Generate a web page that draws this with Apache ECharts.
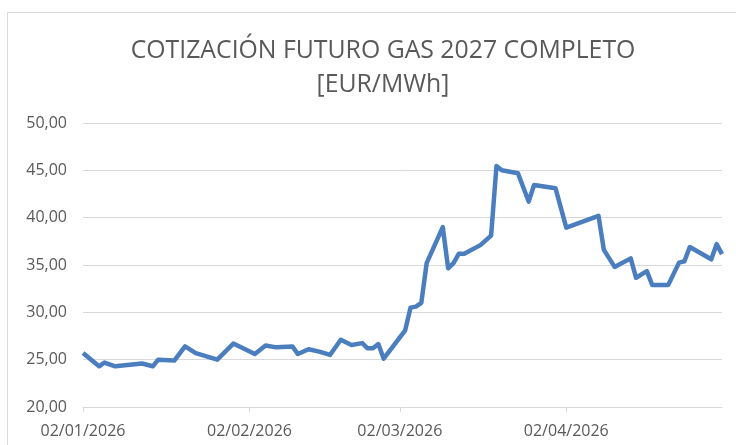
<!DOCTYPE html>
<html>
<head>
<meta charset="utf-8">
<script src="https://cdn.jsdelivr.net/npm/echarts@6/dist/echarts.min.js"></script>
<style>
  html, body { margin: 0; padding: 0; background: #fff; }
  #chart { width: 736px; height: 445px; }
</style>
</head>
<body>
<div id="chart"></div>
<script>
// dates of the visible vertices of the line
const dates = [
  '2026-01-02', '2026-01-05', '2026-01-06', '2026-01-08', '2026-01-13', '2026-01-15',
  '2026-01-16', '2026-01-19', '2026-01-21', '2026-01-23', '2026-01-27', '2026-01-30',
  '2026-02-03', '2026-02-05', '2026-02-07', '2026-02-10', '2026-02-11', '2026-02-13',
  '2026-02-15', '2026-02-17', '2026-02-19', '2026-02-21', '2026-02-23', '2026-02-24',
  '2026-02-25', '2026-02-26', '2026-02-27', '2026-03-03', '2026-03-04', '2026-03-05',
  '2026-03-06', '2026-03-07', '2026-03-10', '2026-03-11', '2026-03-12', '2026-03-13',
  '2026-03-14', '2026-03-17', '2026-03-18', '2026-03-19', '2026-03-20', '2026-03-21',
  '2026-03-24', '2026-03-26', '2026-03-27', '2026-03-31', '2026-04-02', '2026-04-08',
  '2026-04-09', '2026-04-11', '2026-04-14', '2026-04-15', '2026-04-17', '2026-04-18',
  '2026-04-21', '2026-04-23', '2026-04-24', '2026-04-25', '2026-04-29', '2026-04-30',
  '2026-05-01'
];
const prices = [
  25.7, 24.3, 24.7, 24.3, 24.6, 24.3,
  25.0, 24.9, 26.4, 25.7, 25.0, 26.7,
  25.6, 26.5, 26.3, 26.4, 25.6, 26.1,
  25.85, 25.5, 27.1, 26.55, 26.75, 26.2,
  26.2, 26.65, 25.1, 28.1, 30.5, 30.6,
  31.0, 35.2, 39.0, 34.65, 35.2, 36.2,
  36.2, 37.1, 37.6, 38.1, 45.45, 45.0,
  44.7, 41.7, 43.45, 43.1, 38.95, 40.2,
  36.6, 34.8, 35.7, 33.65, 34.35, 32.9,
  32.9, 35.25, 35.4, 36.9, 35.6, 37.2,
  36.15
];
const tickDates = ['2026-01-02', '2026-02-02', '2026-03-02', '2026-04-02'];
const axisStart = '2026-01-02';
const axisEnd = '2026-05-01';

function ts(s) {
  const p = s.split('-');
  return new Date(+p[0], +p[1] - 1, +p[2]).getTime();
}
function pad(n) { return (n < 10 ? '0' : '') + n; }

const chart = echarts.init(document.getElementById('chart'));
chart.setOption({
  animation: false,
  title: {
    text: 'COTIZACIÓN FUTURO GAS 2027 COMPLETO\n[EUR/MWh]',
    left: 378,
    top: 29,
    textAlign: 'center',
    textStyle: {
      fontFamily: 'Open Sans',
      fontSize: 24.8,
      fontWeight: 'normal',
      color: '#595959',
      lineHeight: 34
    }
  },
  graphic: [{
    type: 'polyline',
    shape: { points: [[7.5, 445], [7.5, 12.5], [736, 12.5]] },
    style: { stroke: '#d9d9d9', lineWidth: 1, fill: null },
    silent: true
  }],
  grid: { left: 83, right: 14, top: 123, bottom: 38 },
  xAxis: {
    type: 'value',
    min: ts(axisStart),
    max: ts(axisEnd),
    axisLine: { lineStyle: { color: '#d9d9d9', width: 1 } },
    axisTick: {
      show: true,
      length: 5,
      customValues: tickDates.map(ts),
      lineStyle: { color: '#d9d9d9' }
    },
    axisLabel: {
      customValues: tickDates.map(ts),
      fontFamily: 'Open Sans',
      fontSize: 16,
      color: '#595959',
      margin: 16,
      formatter: function (v) {
        const d = new Date(v);
        return pad(d.getDate()) + '/' + pad(d.getMonth() + 1) + '/' + d.getFullYear();
      }
    },
    splitLine: { show: false }
  },
  yAxis: {
    type: 'value',
    min: 20,
    max: 50,
    interval: 5,
    axisLine: { show: false },
    axisTick: { show: false },
    axisLabel: {
      fontFamily: 'Open Sans',
      fontSize: 16,
      color: '#595959',
      margin: 16,
      formatter: function (v) { return v.toFixed(2).replace('.', ','); }
    },
    splitLine: { lineStyle: { color: '#d9d9d9', width: 1 } }
  },
  series: [{
    type: 'line',
    data: dates.map(function (d, i) { return [ts(d), prices[i]]; }),
    showSymbol: false,
    lineStyle: { color: '#4a7ebf', width: 4.5, join: 'round' },
    itemStyle: { color: '#4a7ebf' }
  }]
});
</script>
</body>
</html>
